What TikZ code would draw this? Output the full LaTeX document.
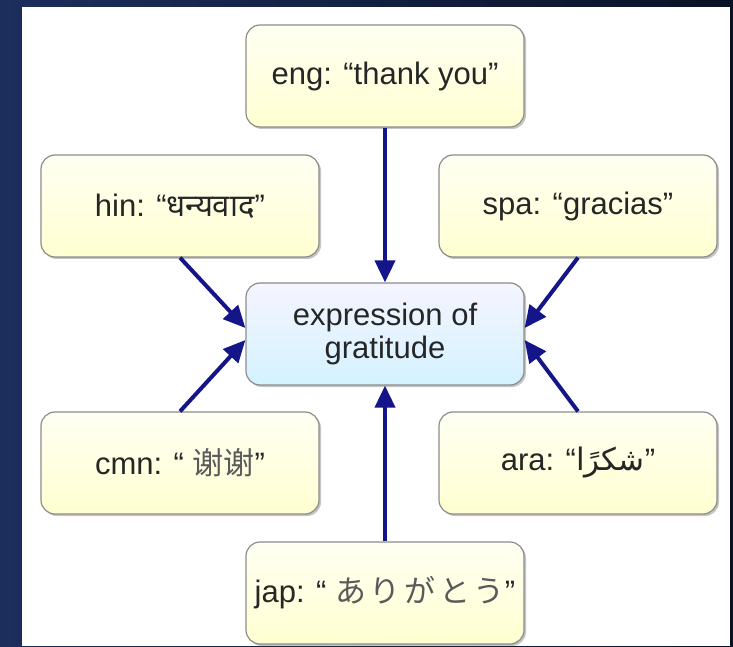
\documentclass[tikz,border=0pt]{standalone}
\usepackage{fontspec}
\setmainfont{Liberation Sans}
\newfontfamily\hinfont[Script=Devanagari]{Noto Sans}
\newfontfamily\cmnfont{Noto Sans CJK SC}
\newfontfamily\japfont[LetterSpace=12]{Noto Sans CJK JP}
\newfontfamily\arafont[Script=Arabic]{DejaVu Sans}
\TeXXeTstate=1
\usetikzlibrary{arrows.meta,shadows}
\definecolor{gratnavy}{HTML}{15158A}
\definecolor{gratink}{HTML}{262626}
\definecolor{gratcjk}{HTML}{5A5A5A}
\definecolor{gratline}{HTML}{8C8C8C}

\tikzset{
  wordbox/.style={draw=gratline,line width=1.2pt,rounded corners=14pt,
    minimum width=278pt,minimum height=102pt,align=center,
    text=gratink,font=\fontsize{31}{33}\selectfont,
    top color=white!60!yellow!12,bottom color=yellow!18,
    drop shadow={shadow xshift=2pt,shadow yshift=-2pt,fill=black!45}},
  meaningbox/.style={wordbox,top color=blue!4,bottom color=blue!30!cyan!17},
  toword/.style={draw=gratnavy,line width=4pt,-{Triangle[length=22pt,width=20pt]}}
}

\begin{document}
\begin{tikzpicture}[x=1pt,y=1pt]
\useasboundingbox (0,0) rectangle (733,646);
\shade[left color={rgb,255:red,28;green,46;blue,92},right color={rgb,255:red,10;green,18;blue,38}] (0,0) rectangle (733,646);
\fill[white] (22,0) rectangle (730,639);

\node[meaningbox] (ctr) at (385,312) {expression of\\gratitude};
\node[wordbox] (eng) at (385,570) {eng: “thank you”};
\node[wordbox] (hin) at (180,440) {hin: “{\hinfont धन्यवाद}”};
\node[wordbox] (spa) at (578,440) {spa: “gracias”};
\node[wordbox] (cmn) at (180,183) {cmn: “ {\cmnfont\color{gratcjk}谢谢}”};
\node[wordbox] (ara) at (578,183) {ara: “{\arafont\beginR شكرًا\endR}”};
\node[wordbox] (jap) at (385,53) {jap: “ {\japfont\color{gratcjk}ありがとう}”};

\draw[toword] (eng.south) -- (ctr.north);
\draw[toword] (jap.north) -- (ctr.south);
\draw[toword] (hin.south) -- ([yshift=6pt]ctr.west);
\draw[toword] (cmn.north) -- ([yshift=-6pt]ctr.west);
\draw[toword] (spa.south) -- ([yshift=6pt]ctr.east);
\draw[toword] (ara.north) -- ([yshift=-6pt]ctr.east);
\end{tikzpicture}
\end{document}
